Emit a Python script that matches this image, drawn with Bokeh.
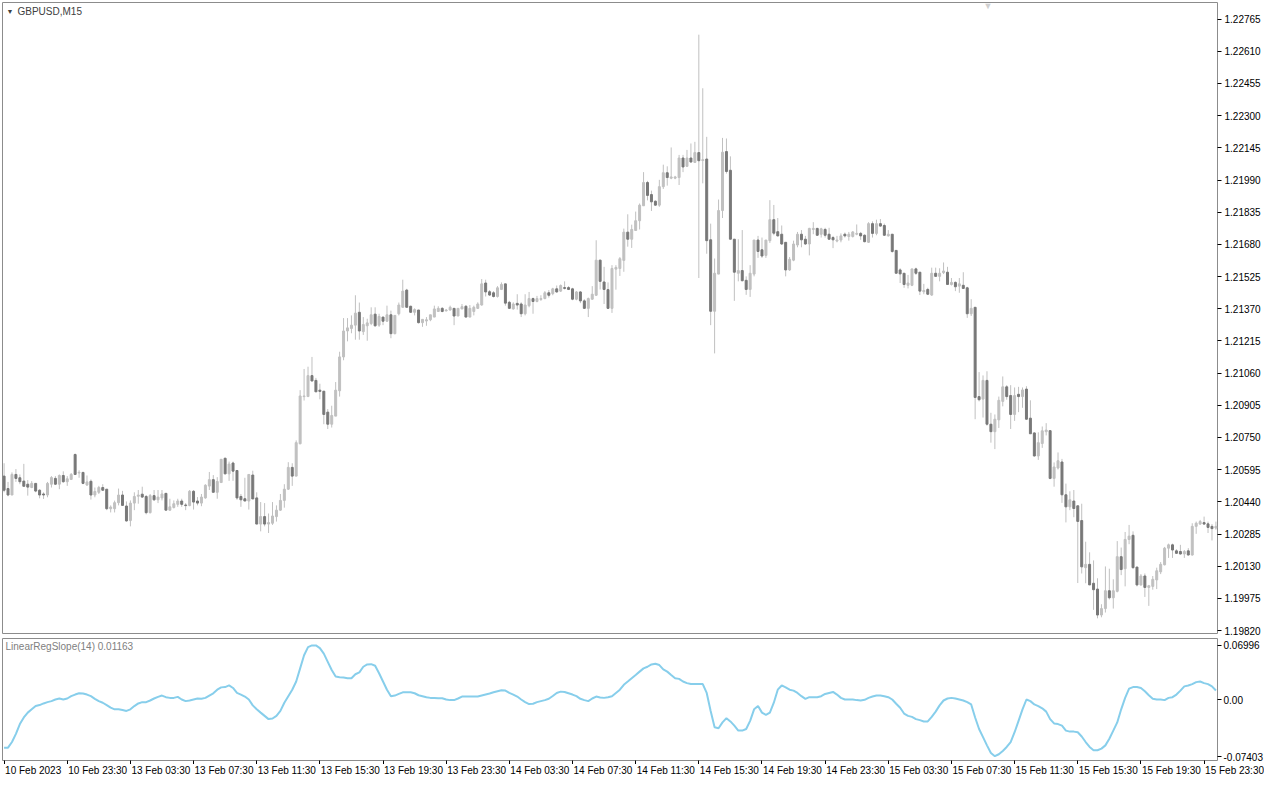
from bokeh.plotting import figure
from bokeh.models import ColumnDataSource, Range1d, FixedTicker, NumeralTickFormatter, Label
from bokeh.layouts import column
from bokeh.embed import file_html
from bokeh.resources import INLINE
from bokeh.core.properties import value

symbol_title = "GBPUSD,M15"
indicator_title = "LinearRegSlope(14) 0.01163"

time_tick_bars = [0, 16, 32, 48, 64, 80, 96, 112, 128, 144, 160, 176, 192, 208, 224, 240, 256, 272, 288, 304]
time_tick_labels = ["10 Feb 2023", "10 Feb 23:30", "13 Feb 03:30", "13 Feb 07:30", "13 Feb 11:30",
                    "13 Feb 15:30", "13 Feb 19:30", "13 Feb 23:30", "14 Feb 03:30", "14 Feb 07:30",
                    "14 Feb 11:30", "14 Feb 15:30", "14 Feb 19:30", "14 Feb 23:30", "15 Feb 03:30",
                    "15 Feb 07:30", "15 Feb 11:30", "15 Feb 15:30", "15 Feb 19:30", "15 Feb 23:30"]

price_ticks = [1.22765, 1.22610, 1.22455, 1.22300, 1.22145, 1.21990, 1.21835, 1.21680, 1.21525, 1.21370,
               1.21215, 1.21060, 1.20905, 1.20750, 1.20595, 1.20440, 1.20285, 1.20130, 1.19975, 1.19820]
slope_ticks = [0.06996, 0.0, -0.07403]
slope_tick_labels = ["0.06996", "0.00", "-0.07403"]

opens = [
 1.20564, 1.20504, 1.20473, 1.20572, 1.20556, 1.20540, 1.20525, 1.20509, 1.20529, 1.20496,
 1.20478, 1.20473, 1.20525, 1.20553, 1.20525, 1.20567, 1.20537, 1.20548, 1.20668, 1.20579,
 1.20582, 1.20521, 1.20539, 1.20473, 1.20486, 1.20509, 1.20501, 1.20407, 1.20407, 1.20436,
 1.20473, 1.20420, 1.20350, 1.20434, 1.20467, 1.20477, 1.20466, 1.20388, 1.20470, 1.20450,
 1.20459, 1.20481, 1.20400, 1.20413, 1.20428, 1.20444, 1.20425, 1.20422, 1.20491, 1.20444,
 1.20434, 1.20459, 1.20516, 1.20547, 1.20486, 1.20533, 1.20650, 1.20575, 1.20627, 1.20591,
 1.20466, 1.20455, 1.20444, 1.20569, 1.20459, 1.20333, 1.20369, 1.20333, 1.20337, 1.20369,
 1.20400, 1.20447, 1.20501, 1.20606, 1.20564, 1.20720, 1.20947, 1.20947, 1.21048, 1.21025,
 1.20978, 1.20973, 1.20872, 1.20814, 1.20853, 1.20975, 1.21138, 1.21263, 1.21275, 1.21291,
 1.21353, 1.21260, 1.21288, 1.21299, 1.21344, 1.21291, 1.21330, 1.21310, 1.21341, 1.21250,
 1.21346, 1.21377, 1.21460, 1.21382, 1.21353, 1.21364, 1.21303, 1.21311, 1.21317, 1.21330,
 1.21357, 1.21372, 1.21360, 1.21364, 1.21372, 1.21335, 1.21369, 1.21382, 1.21330, 1.21357,
 1.21372, 1.21388, 1.21494, 1.21452, 1.21447, 1.21429, 1.21463, 1.21490, 1.21401, 1.21369,
 1.21396, 1.21393, 1.21346, 1.21385, 1.21419, 1.21405, 1.21415, 1.21419, 1.21447, 1.21443,
 1.21466, 1.21455, 1.21472, 1.21472, 1.21466, 1.21416, 1.21451, 1.21408, 1.21372, 1.21416,
 1.21435, 1.21604, 1.21499, 1.21462, 1.21372, 1.21561, 1.21564, 1.21603, 1.21739, 1.21705,
 1.21747, 1.21794, 1.21866, 1.21978, 1.21920, 1.21888, 1.21869, 1.21958, 1.22025, 1.21999,
 1.21999, 1.22002, 1.22096, 1.22056, 1.22096, 1.22075, 1.22122, 1.22084, 1.22091, 1.21702,
 1.21358, 1.21537, 1.21843, 1.22127, 1.22037, 1.21705, 1.21541, 1.21554, 1.21507, 1.21463,
 1.21537, 1.21701, 1.21654, 1.21627, 1.21698, 1.21799, 1.21741, 1.21729, 1.21690, 1.21557,
 1.21604, 1.21677, 1.21729, 1.21705, 1.21682, 1.21752, 1.21757, 1.21729, 1.21752, 1.21729,
 1.21713, 1.21696, 1.21701, 1.21729, 1.21718, 1.21718, 1.21729, 1.21733, 1.21724, 1.21690,
 1.21780, 1.21733, 1.21780, 1.21771, 1.21721, 1.21729, 1.21651, 1.21557, 1.21541, 1.21483,
 1.21483, 1.21562, 1.21546, 1.21452, 1.21463, 1.21436, 1.21541, 1.21526, 1.21544, 1.21546,
 1.21487, 1.21497, 1.21479, 1.21483, 1.21471, 1.21346, 1.21377, 1.20947, 1.20935, 1.21025,
 1.20814, 1.20778, 1.20835, 1.20924, 1.20994, 1.20952, 1.20861, 1.20958, 1.20947, 1.20983,
 1.20843, 1.20772, 1.20661, 1.20721, 1.20778, 1.20783, 1.20553, 1.20603, 1.20632, 1.20474,
 1.20416, 1.20444, 1.20421, 1.20350, 1.20123, 1.20139, 1.20048, 1.20020, 1.19895, 1.19926,
 1.20012, 1.19978, 1.20009, 1.20176, 1.20118, 1.20259, 1.20279, 1.20126, 1.20040, 1.20083,
 1.20028, 1.20033, 1.20064, 1.20103, 1.20137, 1.20217, 1.20233, 1.20204, 1.20201, 1.20189,
 1.20204, 1.20184, 1.20322, 1.20333, 1.20340, 1.20334, 1.20322, 1.20314]

highs = [
 1.20626, 1.20536, 1.20582, 1.20598, 1.20572, 1.20623, 1.20545, 1.20540, 1.20529, 1.20501,
 1.20486, 1.20536, 1.20564, 1.20564, 1.20572, 1.20587, 1.20564, 1.20579, 1.20673, 1.20592,
 1.20582, 1.20567, 1.20548, 1.20509, 1.20517, 1.20525, 1.20501, 1.20423, 1.20446, 1.20504,
 1.20493, 1.20442, 1.20447, 1.20486, 1.20497, 1.20513, 1.20473, 1.20478, 1.20497, 1.20497,
 1.20497, 1.20481, 1.20455, 1.20447, 1.20455, 1.20455, 1.20434, 1.20497, 1.20497, 1.20463,
 1.20478, 1.20525, 1.20584, 1.20569, 1.20559, 1.20645, 1.20653, 1.20634, 1.20634, 1.20591,
 1.20478, 1.20556, 1.20572, 1.20590, 1.20486, 1.20439, 1.20434, 1.20384, 1.20439, 1.20423,
 1.20478, 1.20525, 1.20631, 1.20626, 1.20736, 1.20978, 1.21080, 1.21091, 1.21138, 1.21037,
 1.21009, 1.20973, 1.20887, 1.20903, 1.21017, 1.21163, 1.21325, 1.21325, 1.21338, 1.21435,
 1.21400, 1.21330, 1.21322, 1.21377, 1.21377, 1.21346, 1.21330, 1.21385, 1.21361, 1.21338,
 1.21400, 1.21510, 1.21466, 1.21385, 1.21372, 1.21364, 1.21319, 1.21330, 1.21341, 1.21385,
 1.21382, 1.21378, 1.21369, 1.21385, 1.21372, 1.21372, 1.21393, 1.21388, 1.21388, 1.21385,
 1.21401, 1.21513, 1.21510, 1.21460, 1.21455, 1.21479, 1.21497, 1.21490, 1.21408, 1.21401,
 1.21440, 1.21401, 1.21440, 1.21451, 1.21424, 1.21432, 1.21435, 1.21455, 1.21460, 1.21471,
 1.21482, 1.21487, 1.21502, 1.21479, 1.21471, 1.21455, 1.21455, 1.21416, 1.21424, 1.21479,
 1.21700, 1.21607, 1.21572, 1.21497, 1.21580, 1.21580, 1.21619, 1.21756, 1.21825, 1.21775,
 1.21838, 1.21877, 1.22028, 1.21986, 1.21939, 1.21892, 1.21991, 1.22064, 1.22056, 1.22147,
 1.22010, 1.22111, 1.22111, 1.22135, 1.22166, 1.22174, 1.22690, 1.22432, 1.22198, 1.21780,
 1.21612, 1.21896, 1.22193, 1.22190, 1.22104, 1.21705, 1.21705, 1.21749, 1.21526, 1.21580,
 1.21701, 1.21721, 1.21713, 1.21701, 1.21893, 1.21870, 1.21807, 1.21771, 1.21690, 1.21619,
 1.21698, 1.21740, 1.21749, 1.21721, 1.21760, 1.21787, 1.21760, 1.21760, 1.21760, 1.21760,
 1.21721, 1.21721, 1.21733, 1.21737, 1.21740, 1.21744, 1.21776, 1.21740, 1.21729, 1.21787,
 1.21791, 1.21799, 1.21802, 1.21780, 1.21749, 1.21729, 1.21651, 1.21565, 1.21541, 1.21533,
 1.21562, 1.21568, 1.21546, 1.21490, 1.21471, 1.21568, 1.21568, 1.21565, 1.21593, 1.21572,
 1.21518, 1.21502, 1.21518, 1.21546, 1.21476, 1.21416, 1.21377, 1.21065, 1.21049, 1.21069,
 1.20869, 1.20861, 1.20947, 1.21044, 1.21002, 1.21002, 1.20991, 1.20994, 1.20991, 1.20997,
 1.20929, 1.20775, 1.20775, 1.20803, 1.20819, 1.20783, 1.20630, 1.20678, 1.20647, 1.20528,
 1.20491, 1.20497, 1.20421, 1.20431, 1.20248, 1.20197, 1.20158, 1.20072, 1.19947, 1.20129,
 1.20118, 1.20067, 1.20251, 1.20220, 1.20295, 1.20329, 1.20298, 1.20126, 1.20092, 1.20095,
 1.20040, 1.20083, 1.20123, 1.20150, 1.20223, 1.20239, 1.20239, 1.20212, 1.20233, 1.20208,
 1.20217, 1.20337, 1.20345, 1.20353, 1.20369, 1.20345, 1.20333, 1.20345]

lows = [
 1.20486, 1.20467, 1.20473, 1.20536, 1.20525, 1.20515, 1.20470, 1.20506, 1.20486, 1.20457,
 1.20454, 1.20462, 1.20509, 1.20521, 1.20501, 1.20532, 1.20517, 1.20548, 1.20572, 1.20556,
 1.20525, 1.20517, 1.20451, 1.20462, 1.20478, 1.20493, 1.20400, 1.20389, 1.20389, 1.20423,
 1.20420, 1.20345, 1.20322, 1.20400, 1.20431, 1.20459, 1.20380, 1.20384, 1.20444, 1.20434,
 1.20447, 1.20400, 1.20397, 1.20408, 1.20416, 1.20416, 1.20400, 1.20419, 1.20403, 1.20423,
 1.20419, 1.20455, 1.20497, 1.20486, 1.20455, 1.20533, 1.20572, 1.20541, 1.20541, 1.20450,
 1.20416, 1.20444, 1.20403, 1.20454, 1.20333, 1.20298, 1.20322, 1.20290, 1.20329, 1.20345,
 1.20397, 1.20412, 1.20497, 1.20517, 1.20564, 1.20717, 1.20928, 1.20947, 1.21022, 1.20970,
 1.20934, 1.20814, 1.20791, 1.20798, 1.20853, 1.20947, 1.21122, 1.21213, 1.21252, 1.21221,
 1.21221, 1.21244, 1.21216, 1.21291, 1.21283, 1.21283, 1.21291, 1.21307, 1.21228, 1.21247,
 1.21338, 1.21377, 1.21377, 1.21350, 1.21338, 1.21299, 1.21283, 1.21288, 1.21310, 1.21330,
 1.21357, 1.21353, 1.21357, 1.21361, 1.21291, 1.21335, 1.21369, 1.21330, 1.21330, 1.21338,
 1.21369, 1.21385, 1.21429, 1.21432, 1.21424, 1.21424, 1.21460, 1.21385, 1.21369, 1.21366,
 1.21366, 1.21330, 1.21338, 1.21377, 1.21346, 1.21401, 1.21408, 1.21416, 1.21424, 1.21435,
 1.21447, 1.21451, 1.21463, 1.21460, 1.21411, 1.21411, 1.21397, 1.21369, 1.21330, 1.21413,
 1.21432, 1.21463, 1.21393, 1.21369, 1.21350, 1.21462, 1.21528, 1.21548, 1.21669, 1.21663,
 1.21747, 1.21752, 1.21866, 1.21892, 1.21841, 1.21866, 1.21861, 1.21947, 1.21963, 1.21994,
 1.21994, 1.21966, 1.22028, 1.22053, 1.22072, 1.22072, 1.21518, 1.21974, 1.21635, 1.21291,
 1.21155, 1.21537, 1.21807, 1.22021, 1.21705, 1.21408, 1.21502, 1.21502, 1.21437, 1.21427,
 1.21526, 1.21615, 1.21615, 1.21615, 1.21687, 1.21724, 1.21718, 1.21677, 1.21526, 1.21552,
 1.21599, 1.21666, 1.21666, 1.21677, 1.21627, 1.21729, 1.21721, 1.21713, 1.21713, 1.21702,
 1.21662, 1.21690, 1.21690, 1.21713, 1.21698, 1.21713, 1.21724, 1.21702, 1.21690, 1.21687,
 1.21713, 1.21724, 1.21765, 1.21721, 1.21718, 1.21640, 1.21541, 1.21494, 1.21471, 1.21468,
 1.21479, 1.21533, 1.21436, 1.21440, 1.21436, 1.21432, 1.21526, 1.21502, 1.21537, 1.21487,
 1.21482, 1.21455, 1.21447, 1.21466, 1.21326, 1.21335, 1.20838, 1.20924, 1.20846, 1.20807,
 1.20725, 1.20694, 1.20796, 1.20900, 1.20932, 1.20791, 1.20830, 1.20872, 1.20893, 1.20835,
 1.20768, 1.20658, 1.20642, 1.20700, 1.20760, 1.20549, 1.20513, 1.20596, 1.20435, 1.20341,
 1.20400, 1.20366, 1.20049, 1.20095, 1.20048, 1.20040, 1.19920, 1.19879, 1.19884, 1.19907,
 1.19970, 1.19926, 1.20004, 1.20087, 1.20033, 1.20236, 1.20118, 1.20033, 1.20036, 1.19982,
 1.19939, 1.20017, 1.20020, 1.20092, 1.20134, 1.20170, 1.20170, 1.20189, 1.20186, 1.20170,
 1.20181, 1.20181, 1.20286, 1.20329, 1.20329, 1.20290, 1.20254, 1.20306]

closes = [
 1.20496, 1.20473, 1.20572, 1.20553, 1.20537, 1.20515, 1.20511, 1.20529, 1.20492, 1.20473,
 1.20473, 1.20529, 1.20557, 1.20525, 1.20567, 1.20537, 1.20551, 1.20572, 1.20572, 1.20582,
 1.20529, 1.20536, 1.20473, 1.20490, 1.20509, 1.20496, 1.20407, 1.20415, 1.20436, 1.20473,
 1.20423, 1.20348, 1.20434, 1.20466, 1.20473, 1.20463, 1.20388, 1.20470, 1.20450, 1.20463,
 1.20478, 1.20400, 1.20416, 1.20431, 1.20444, 1.20428, 1.20422, 1.20491, 1.20439, 1.20434,
 1.20463, 1.20520, 1.20547, 1.20486, 1.20538, 1.20645, 1.20575, 1.20622, 1.20588, 1.20459,
 1.20450, 1.20444, 1.20572, 1.20454, 1.20333, 1.20369, 1.20333, 1.20340, 1.20372, 1.20400,
 1.20447, 1.20501, 1.20606, 1.20564, 1.20725, 1.20950, 1.20950, 1.21048, 1.21022, 1.20970,
 1.20972, 1.20861, 1.20814, 1.20856, 1.20978, 1.21138, 1.21263, 1.21278, 1.21291, 1.21349,
 1.21263, 1.21294, 1.21302, 1.21341, 1.21288, 1.21333, 1.21310, 1.21341, 1.21250, 1.21338,
 1.21388, 1.21455, 1.21377, 1.21353, 1.21366, 1.21303, 1.21319, 1.21317, 1.21341, 1.21369,
 1.21372, 1.21357, 1.21364, 1.21377, 1.21335, 1.21372, 1.21380, 1.21330, 1.21372, 1.21377,
 1.21393, 1.21490, 1.21451, 1.21436, 1.21429, 1.21471, 1.21487, 1.21397, 1.21372, 1.21393,
 1.21388, 1.21346, 1.21388, 1.21419, 1.21405, 1.21419, 1.21419, 1.21447, 1.21435, 1.21466,
 1.21451, 1.21482, 1.21468, 1.21463, 1.21416, 1.21451, 1.21408, 1.21372, 1.21419, 1.21440,
 1.21604, 1.21502, 1.21463, 1.21372, 1.21564, 1.21569, 1.21611, 1.21739, 1.21705, 1.21752,
 1.21794, 1.21869, 1.21978, 1.21916, 1.21885, 1.21869, 1.21958, 1.22025, 1.22002, 1.22005,
 1.22005, 1.22096, 1.22053, 1.22096, 1.22077, 1.22122, 1.22083, 1.22088, 1.21698, 1.21358,
 1.21541, 1.21843, 1.22124, 1.22031, 1.21705, 1.21546, 1.21554, 1.21505, 1.21463, 1.21541,
 1.21701, 1.21646, 1.21624, 1.21701, 1.21799, 1.21734, 1.21721, 1.21682, 1.21557, 1.21608,
 1.21682, 1.21729, 1.21702, 1.21682, 1.21757, 1.21757, 1.21724, 1.21755, 1.21724, 1.21705,
 1.21702, 1.21701, 1.21721, 1.21721, 1.21729, 1.21740, 1.21733, 1.21721, 1.21693, 1.21780,
 1.21733, 1.21780, 1.21768, 1.21724, 1.21729, 1.21646, 1.21541, 1.21538, 1.21487, 1.21494,
 1.21562, 1.21541, 1.21455, 1.21458, 1.21440, 1.21541, 1.21526, 1.21541, 1.21552, 1.21487,
 1.21497, 1.21476, 1.21490, 1.21468, 1.21346, 1.21372, 1.20943, 1.20932, 1.21025, 1.20814,
 1.20778, 1.20838, 1.20929, 1.20994, 1.20947, 1.20861, 1.20952, 1.20947, 1.20979, 1.20838,
 1.20768, 1.20661, 1.20725, 1.20782, 1.20786, 1.20553, 1.20608, 1.20638, 1.20474, 1.20416,
 1.20450, 1.20408, 1.20346, 1.20127, 1.20139, 1.20040, 1.20017, 1.19895, 1.19926, 1.20012,
 1.19978, 1.20012, 1.20176, 1.20114, 1.20259, 1.20275, 1.20123, 1.20040, 1.20083, 1.20028,
 1.20036, 1.20067, 1.20108, 1.20139, 1.20217, 1.20233, 1.20208, 1.20192, 1.20189, 1.20201,
 1.20184, 1.20322, 1.20337, 1.20345, 1.20333, 1.20317, 1.20311, 1.20322]

slope = [
 -0.0624, -0.0624, -0.0551, -0.0445, -0.0318, -0.0233, -0.0170, -0.0127, -0.0085, -0.0072,
 -0.0051, -0.0034, -0.0021, 0.0000, 0.0013, 0.0000, 0.0013, 0.0043, 0.0064, 0.0081,
 0.0077, 0.0064, 0.0043, 0.0009, -0.0021, -0.0042, -0.0072, -0.0106, -0.0127, -0.0127,
 -0.0136, -0.0148, -0.0127, -0.0085, -0.0051, -0.0034, -0.0034, -0.0013, 0.0013, 0.0034,
 0.0051, 0.0030, 0.0021, 0.0021, 0.0034, 0.0000, -0.0021, -0.0013, 0.0000, 0.0013,
 0.0009, 0.0021, 0.0051, 0.0080, 0.0127, 0.0157, 0.0161, 0.0182, 0.0149, 0.0085,
 0.0064, 0.0038, 0.0000, -0.0076, -0.0127, -0.0170, -0.0212, -0.0254, -0.0246, -0.0212,
 -0.0148, -0.0042, 0.0043, 0.0127, 0.0233, 0.0403, 0.0573, 0.0679, 0.0700, 0.0700,
 0.0666, 0.0594, 0.0488, 0.0382, 0.0297, 0.0289, 0.0285, 0.0276, 0.0276, 0.0327,
 0.0352, 0.0424, 0.0454, 0.0458, 0.0437, 0.0340, 0.0233, 0.0127, 0.0043, 0.0051,
 0.0072, 0.0093, 0.0093, 0.0093, 0.0081, 0.0055, 0.0043, 0.0030, 0.0021, 0.0021,
 0.0017, 0.0017, 0.0000, -0.0008, -0.0008, 0.0013, 0.0038, 0.0038, 0.0038, 0.0038,
 0.0038, 0.0051, 0.0064, 0.0077, 0.0093, 0.0106, 0.0119, 0.0115, 0.0085, 0.0064,
 0.0038, 0.0000, -0.0034, -0.0059, -0.0055, -0.0034, -0.0021, -0.0008, 0.0009, 0.0045,
 0.0085, 0.0102, 0.0098, 0.0081, 0.0064, 0.0043, 0.0009, -0.0008, -0.0021, 0.0013,
 0.0038, 0.0026, 0.0021, 0.0030, 0.0043, 0.0085, 0.0127, 0.0191, 0.0233, 0.0276,
 0.0318, 0.0361, 0.0403, 0.0424, 0.0454, 0.0463, 0.0446, 0.0390, 0.0361, 0.0318,
 0.0276, 0.0267, 0.0233, 0.0212, 0.0200, 0.0200, 0.0200, 0.0200, 0.0085, -0.0148,
 -0.0360, -0.0373, -0.0297, -0.0242, -0.0284, -0.0339, -0.0403, -0.0403, -0.0382, -0.0276,
 -0.0127, -0.0085, -0.0170, -0.0199, -0.0170, -0.0042, 0.0127, 0.0182, 0.0157, 0.0127,
 0.0115, 0.0085, 0.0043, 0.0009, 0.0030, 0.0030, 0.0030, 0.0043, 0.0072, 0.0085,
 0.0098, 0.0064, 0.0021, 0.0000, 0.0000, 0.0000, -0.0008, -0.0013, -0.0004, 0.0021,
 0.0038, 0.0051, 0.0051, 0.0043, 0.0030, 0.0000, -0.0055, -0.0106, -0.0182, -0.0212,
 -0.0225, -0.0254, -0.0267, -0.0284, -0.0284, -0.0225, -0.0157, -0.0076, -0.0013, 0.0013,
 0.0021, 0.0013, 0.0000, -0.0013, -0.0034, -0.0064, -0.0233, -0.0382, -0.0488, -0.0594,
 -0.0692, -0.0734, -0.0709, -0.0666, -0.0615, -0.0551, -0.0424, -0.0276, -0.0127, 0.0000,
 -0.0021, -0.0064, -0.0085, -0.0114, -0.0157, -0.0254, -0.0310, -0.0318, -0.0339, -0.0403,
 -0.0416, -0.0416, -0.0424, -0.0479, -0.0551, -0.0615, -0.0657, -0.0657, -0.0636, -0.0594,
 -0.0509, -0.0403, -0.0297, -0.0127, 0.0021, 0.0140, 0.0161, 0.0161, 0.0149, 0.0106,
 0.0055, 0.0009, 0.0000, 0.0000, -0.0008, 0.0021, 0.0030, 0.0064, 0.0115, 0.0170,
 0.0182, 0.0199, 0.0225, 0.0233, 0.0212, 0.0199, 0.0170, 0.01163]

# ---------------------------------------------------------------- styling
FONT = "Liberation Sans"
BULL = "#c0c0c0"
BEAR = "#787878"
WICK = "#c0c0c0"
FRAME = "#8c8c8c"
RIGHT = 47

bars = list(range(len(opens)))
body_top = [max(o, c) for o, c in zip(opens, closes)]
body_bot = [min(o, c) for o, c in zip(opens, closes)]
body_col = [BULL if c >= o else BEAR for o, c in zip(opens, closes)]
src = ColumnDataSource(dict(x=bars, high=highs, low=lows, top=body_top, bottom=body_bot, color=body_col))

FW = 1215
MAIN_H = 631
IND_H = 122
xr = Range1d(-0.4, len(bars) - 0.6)

p = figure(frame_width=FW, frame_height=MAIN_H, x_range=xr, y_range=Range1d(1.19806, 1.22845),
           output_backend="svg", toolbar_location=None, x_axis_location=None, y_axis_location="right",
           min_border_left=2, min_border_top=2, min_border_bottom=5, min_border_right=RIGHT)
p.background_fill_color = "white"
p.border_fill_color = "white"
p.outline_line_color = FRAME
p.grid.visible = False
p.segment(x0="x", y0="low", x1="x", y1="high", source=src, line_color=WICK, line_width=1)
p.vbar(x="x", width=0.5, top="top", bottom="bottom", source=src, fill_color="color", line_color="color", line_width=1)

ya = p.yaxis[0]
ya.ticker = FixedTicker(ticks=price_ticks)
ya.formatter = NumeralTickFormatter(format="0.00000")
ya.axis_line_color = None
ya.major_tick_in = 0
ya.major_tick_out = 4
ya.major_tick_line_color = "#000000"
ya.minor_tick_line_color = None
ya.major_label_standoff = 3
ya.major_label_text_font = FONT
ya.major_label_text_font_size = "10px"
ya.major_label_text_color = "#000000"

p.add_layout(Label(x=4, y=MAIN_H - 9, x_units="screen", y_units="screen", text="\u25bc",
                   text_font=FONT, text_font_size="7px", text_color="#404040", text_baseline="middle"))
p.add_layout(Label(x=15, y=MAIN_H - 9, x_units="screen", y_units="screen", text=symbol_title,
                   text_font=FONT, text_font_size="10px", text_color="#404040", text_baseline="middle"))
p.add_layout(Label(x=981, y=MAIN_H - 3, x_units="screen", y_units="screen", text="\u25bc",
                   text_font=FONT, text_font_size="9px", text_color="#d0d0d0", text_baseline="middle"))

q = figure(frame_width=FW, frame_height=IND_H, x_range=xr, y_range=Range1d(-0.079, 0.079),
           output_backend="svg", toolbar_location=None, y_axis_location="right",
           min_border_left=2, min_border_top=0, min_border_bottom=0, min_border_right=RIGHT)
q.background_fill_color = "white"
q.border_fill_color = "white"
q.outline_line_color = FRAME
q.grid.visible = False
q.line(x=bars, y=slope, line_color="#87ceeb", line_width=2)

qa = q.yaxis[0]
qa.ticker = FixedTicker(ticks=slope_ticks)
qa.major_label_overrides = dict(zip(slope_ticks, slope_tick_labels))
qa.axis_line_color = None
qa.major_tick_in = 0
qa.major_tick_out = 4
qa.minor_tick_line_color = None
qa.major_label_standoff = 2
qa.major_label_text_font = FONT
qa.major_label_text_font_size = "10px"
qa.major_label_text_color = "#000000"

# time axis: tick marks from the indicator's axis, labels left-aligned beside each tick in a strip below
xa = q.xaxis[0]
xa.ticker = FixedTicker(ticks=time_tick_bars)
xa.major_label_overrides = {b: "" for b in time_tick_bars}
xa.major_label_text_font_size = "1px"
xa.major_label_standoff = 0
xa.axis_line_color = None
xa.major_tick_in = 0
xa.major_tick_out = 4
xa.major_tick_line_color = "#000000"
xa.minor_tick_line_color = None

# strip whose frame extends under the price scale, with the same bars-per-pixel scale
span = xr.end - xr.start
strip_range = Range1d(xr.start, xr.end + RIGHT * span / FW)
s = figure(frame_width=FW + RIGHT, frame_height=14, x_range=strip_range, y_range=Range1d(0, 1),
           output_backend="svg", toolbar_location=None, x_axis_location=None, y_axis_location=None,
           min_border_left=2, min_border_top=0, min_border_bottom=0, min_border_right=0)
s.outline_line_color = None
s.grid.visible = False
s.background_fill_color = "white"
s.border_fill_color = "white"
s.text(x=time_tick_bars, y=[s.y_range.end] * len(time_tick_bars), text=time_tick_labels,
       x_offset=1, text_align="left", text_baseline="top", text_font=value(FONT),
       text_font_size="10px", text_color="#000000")

q.add_layout(Label(x=3, y=IND_H - 8, x_units="screen", y_units="screen", text=indicator_title,
                   text_font=FONT, text_font_size="10px", text_color="#808080", text_baseline="middle"))

layout = column(p, q, s, spacing=0)
open("out.html", "w").write(file_html(layout, INLINE))
